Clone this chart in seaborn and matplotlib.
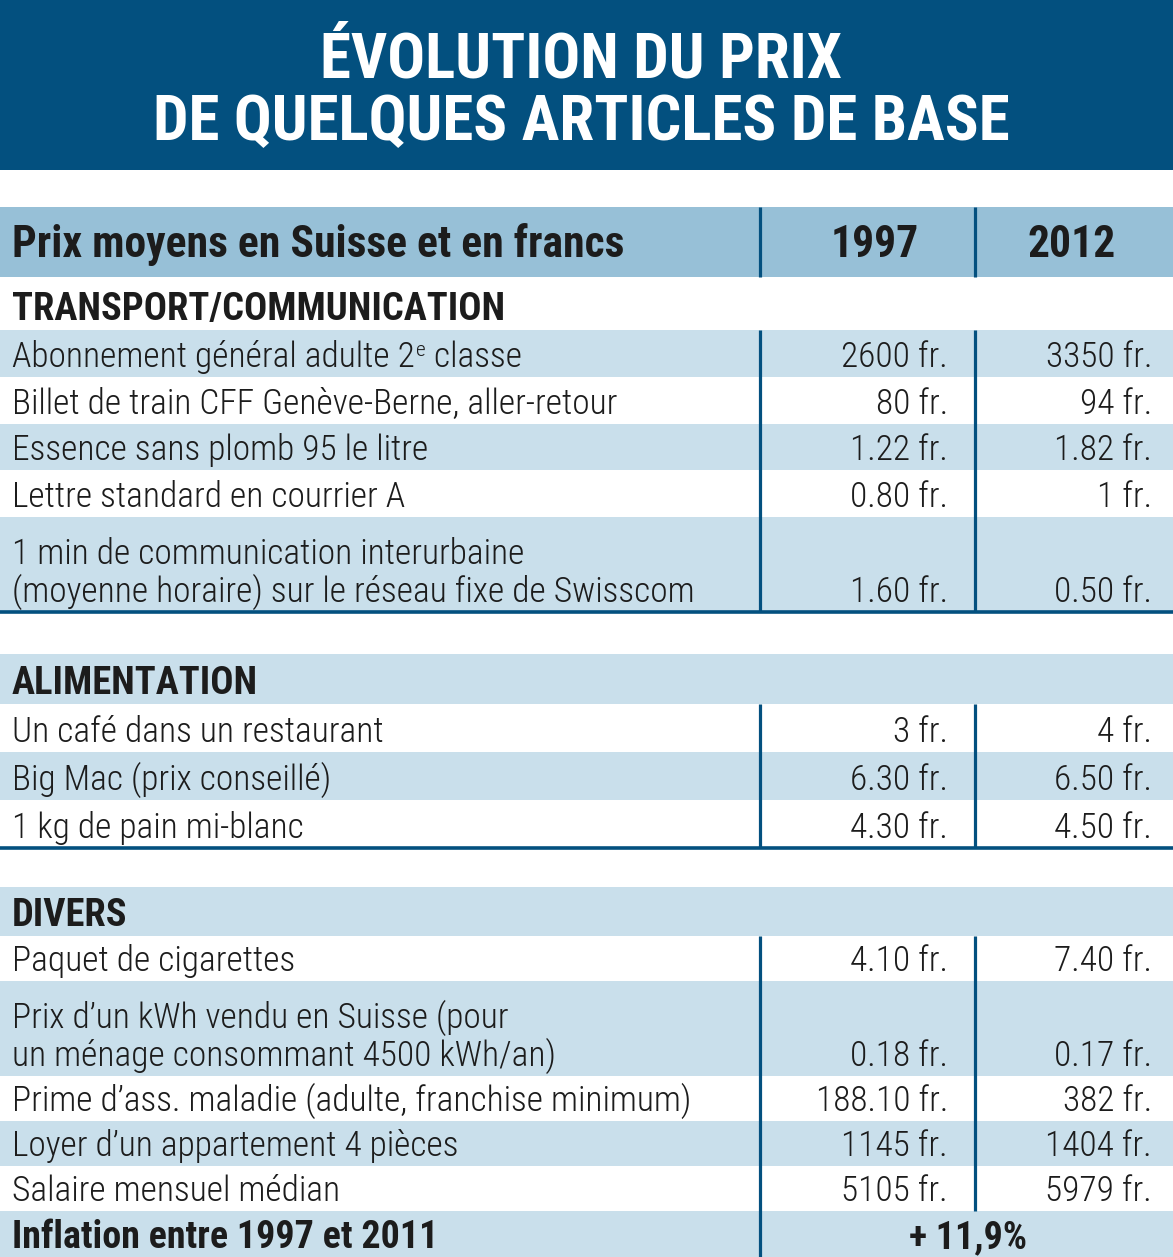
import matplotlib
matplotlib.use("Agg")
import matplotlib.pyplot as plt
from matplotlib import font_manager as fm
import seaborn as sns

sns.set_theme(style="white")

### DATA

title_lines = ["ÉVOLUTION DU PRIX", "DE QUELQUES ARTICLES DE BASE"]
header_label = "Prix moyens en Suisse et en francs"
years = ["1997", "2012"]

sections = ["TRANSPORT/COMMUNICATION", "ALIMENTATION", "DIVERS"]

transport_items = [
    "Abonnement général adulte 2^e classe",
    "Billet de train CFF Genève-Berne, aller-retour",
    "Essence sans plomb 95 le litre",
    "Lettre standard en courrier A",
    "1 min de communication interurbaine\n(moyenne horaire) sur le réseau fixe de Swisscom",
]
transport_1997 = ["2600 fr.", "80 fr.", "1.22 fr.", "0.80 fr.", "1.60 fr."]
transport_2012 = ["3350 fr.", "94 fr.", "1.82 fr.", "1 fr.", "0.50 fr."]

food_items = [
    "Un café dans un restaurant",
    "Big Mac (prix conseillé)",
    "1 kg de pain mi-blanc",
]
food_1997 = ["3 fr.", "6.30 fr.", "4.30 fr."]
food_2012 = ["4 fr.", "6.50 fr.", "4.50 fr."]

misc_items = [
    "Paquet de cigarettes",
    "Prix d’un kWh vendu en Suisse (pour\nun ménage consommant 4500 kWh/an)",
    "Prime d’ass. maladie (adulte, franchise minimum)",
    "Loyer d’un appartement 4 pièces",
    "Salaire mensuel médian",
]
misc_1997 = ["4.10 fr.", "0.18 fr.", "188.10 fr.", "1145 fr.", "5105 fr."]
misc_2012 = ["7.40 fr.", "0.17 fr.", "382 fr.", "1404 fr.", "5979 fr."]

inflation_label = "Inflation entre 1997 et 2011"
inflation_value = "+ 11,9%"

### STYLE

W, H = 1173, 1257
DARK = "#03507f"
MID = "#97c0d7"
LIGHT = "#c9dfeb"
INK = "#1c1c1c"
X_COL1, X_COL2 = 760, 975
X_LEFT = 12
LINE_H = 38
DOUBLE_H = 95


def pick_family():
    # a condensed face is closer to the newspaper font
    prefs = ["Roboto Condensed", "Liberation Sans Narrow", "Open Sans Condensed",
             "DejaVu Sans", "Noto Sans", "Open Sans", "Roboto"]
    for name in prefs:
        for f in fm.fontManager.ttflist:
            st = str(f.stretch)
            if f.name == name and ("condensed" in st or "narrow" in st.lower()
                                   or "Condensed" in name or "Narrow" in name):
                return name, (st if "condensed" in st else "normal")
    return "DejaVu Sans", "normal"


FAMILY, STRETCH = pick_family()
plt.rcParams["font.family"] = [FAMILY, "DejaVu Sans"]
plt.rcParams["font.stretch"] = STRETCH

fig = plt.figure(figsize=(W / 100, H / 100), dpi=100)
ax = fig.add_axes([0, 0, 1, 1])
ax.set_xlim(0, W)
ax.set_ylim(H, 0)
ax.axis("off")
renderer = fig.canvas.get_renderer()

BODY_W = "light"


def fit_size(s, target, weight="normal"):
    t = ax.text(0, 0, s, fontsize=20, fontweight=weight, fontstretch=STRETCH)
    w = t.get_window_extent(renderer).width
    t.remove()
    return 20 * target / w


TITLE_FS = fit_size(title_lines[1], 856, "bold")
HEAD_FS = fit_size(header_label, 610, "bold")
SEC_FS = fit_size(sections[0], 493, "bold")
BODY_FS = fit_size(transport_items[1], 603, BODY_W)
BOLD_FS = fit_size(inflation_label, 425, "bold")


def txt(x, y, s, fs, weight="normal", **kw):
    kw.setdefault("color", INK)
    kw.setdefault("va", "baseline")
    return ax.text(x, y, s, fontsize=fs, fontweight=weight,
                   fontstretch=STRETCH, **kw)


def item_text(x, y, s):
    lines = s.split("\n")
    for k, line in enumerate(lines):
        yb = y - (len(lines) - 1 - k) * LINE_H
        if "^" not in line:
            txt(x, yb, line, BODY_FS, BODY_W)
            continue
        # superscript "e" drawn smaller and raised
        head, rest = line.split("^", 1)
        sup, tail = rest[0], rest[1:]
        t = txt(x, yb, head, BODY_FS, BODY_W)
        x1 = t.get_window_extent(renderer).x1 + 1
        t2 = txt(x1, yb - 11, sup, BODY_FS * 0.6, BODY_W)
        x2 = t2.get_window_extent(renderer).x1
        txt(x2, yb, tail, BODY_FS, BODY_W)


# title banner
ax.add_patch(plt.Rectangle((0, 0), W, 170, color=DARK, lw=0))
txt(W / 2 - 5, 78, title_lines[0], TITLE_FS, "bold", color="white", ha="center")
txt(W / 2 - 5, 140, title_lines[1], TITLE_FS, "bold", color="white", ha="center")

# column header
ax.add_patch(plt.Rectangle((0, 207), W, 70, color=MID, lw=0))
txt(X_LEFT, 257, header_label, HEAD_FS, "bold")
txt(875, 257, years[0], HEAD_FS, "bold", ha="center")
txt(1072, 257, years[1], HEAD_FS, "bold", ha="center")
for xc in (X_COL1, X_COL2):
    ax.plot([xc, xc], [207, 277], color=DARK, lw=2.3, solid_capstyle="butt")

# name, items, values, shaded title row, title height, row height, gap after
blocks = [
    (sections[0], transport_items, transport_1997, transport_2012, False, 53, 46.75, 42),
    (sections[1], food_items, food_1997, food_2012, True, 50, 48, 39),
    (sections[2], misc_items, misc_1997, misc_2012, True, 49, 45, 0),
]

y = 277
for bi, (name, items, v97, v12, shaded, sec_h, row_h, gap) in enumerate(blocks):
    # section title row
    if shaded:
        ax.add_patch(plt.Rectangle((0, y), W, sec_h, color=LIGHT, lw=0))
    txt(X_LEFT, y + sec_h - 10, name, SEC_FS, "bold")
    y += sec_h
    shaded = not shaded
    top = y
    for item, a, b in zip(items, v97, v12):
        h = DOUBLE_H if "\n" in item else row_h
        if shaded:
            ax.add_patch(plt.Rectangle((0, y), W, h, color=LIGHT, lw=0))
        item_text(X_LEFT, y + h - 10, item)
        txt(948, y + h - 10, a, BODY_FS, BODY_W, ha="right")
        txt(1152, y + h - 10, b, BODY_FS, BODY_W, ha="right")
        y += h
        shaded = not shaded
    if bi < len(blocks) - 1:
        for xc in (X_COL1, X_COL2):
            ax.plot([xc, xc], [top, y], color=DARK, lw=2.3, solid_capstyle="butt")
        ax.plot([0, W], [y, y], color=DARK, lw=2.6, solid_capstyle="butt")
        y += gap
    else:
        # inflation row
        ax.add_patch(plt.Rectangle((0, y), W, H - y, color=LIGHT, lw=0))
        txt(X_LEFT, y + row_h - 8, inflation_label, BOLD_FS, "bold")
        txt(968, y + row_h - 8, inflation_value, BOLD_FS, "bold", ha="center")
        ax.plot([X_COL2, X_COL2], [top, y], color=DARK, lw=2.3, solid_capstyle="butt")
        ax.plot([X_COL1, X_COL1], [top, H], color=DARK, lw=2.3, solid_capstyle="butt")

fig.savefig("out.png", dpi=100)
